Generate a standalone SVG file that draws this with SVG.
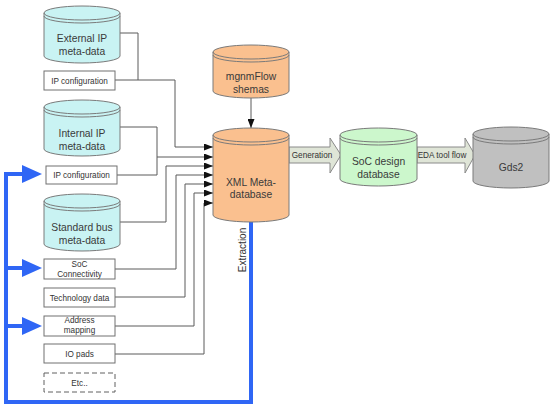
<svg xmlns="http://www.w3.org/2000/svg" width="553" height="409" viewBox="0 0 553 409">
<style>
text{font-family:"Liberation Sans",Arial,sans-serif;text-anchor:middle}
.ct{font-size:10.3px;fill:#3a3a3a}
.bt{font-size:8.2px;fill:#333}
.cyl{stroke:#7a7a7a;stroke-width:1}
.rim{fill:none;stroke:#7a7a7a;stroke-width:1}
.cyan{fill:#c9f3f3}
.orange{fill:#fac08f}
.green{fill:#ccf7cc}
.gray{fill:#c0c0c0}
.box{fill:#fff;stroke:#707070;stroke-width:1}
.dash{stroke:#606060;stroke-dasharray:5,3}
.wire{fill:none;stroke:#5a5a5a;stroke-width:1}
.blue{fill:none;stroke:#2f66f5;stroke-width:4}
.block{fill:#dfe5d7;stroke:#8a8a8a;stroke-width:1}
</style>
<defs>
<marker id="ah" markerUnits="userSpaceOnUse" markerWidth="9" markerHeight="7" viewBox="0 0 9 7" refX="9" refY="3.5" orient="auto">
<path d="M0,0 L9,3.5 L0,7 z" fill="#111"/>
</marker>
<marker id="bh" markerUnits="userSpaceOnUse" markerWidth="20" markerHeight="20" viewBox="0 0 20 20" refX="2" refY="10" orient="auto">
<path d="M0,1 L20,10 L0,19 z" fill="#2f66f5"/>
</marker>
</defs>
<rect width="553" height="409" fill="#fff"/>

<g id="connectors">
<path class="wire" d="M120,33 H138 V80"/>
<path class="wire" d="M115,80 H175 V147 H213" marker-end="url(#ah)"/>
<path class="wire" d="M120,127 H157 V175 H117"/>
<path class="wire" d="M157,157 H213" marker-end="url(#ah)"/>
<path class="wire" d="M120,222 H166 V166 H213" marker-end="url(#ah)"/>
<path class="wire" d="M115,269 H176 V175 H213" marker-end="url(#ah)"/>
<path class="wire" d="M115,297 H185 V184 H213" marker-end="url(#ah)"/>
<path class="wire" d="M115,326 H194 V193 H213" marker-end="url(#ah)"/>
<path class="wire" d="M115,354 H204 V203 H213" marker-end="url(#ah)"/>
<path class="wire" d="M251,98 V128" marker-end="url(#ah)"/>
<path class="blue" d="M251,222 V402 H6 V174 H24" marker-end="url(#bh)"/>
<path class="blue" d="M6,268 H24" marker-end="url(#bh)"/>
<path class="blue" d="M6,326 H24" marker-end="url(#bh)"/>
<text class="bt" style="font-size:10px" transform="translate(246,250) rotate(-90)">Extraction</text>
<g id="gen-arrow">
<polygon class="block" points="289,147 330,147 330,138 341,155 330,173 330,163 289,163"/>
<text class="bt" x="312" y="158">Generation</text>
</g>
<g id="eda-arrow">
<polygon class="block" points="417,147 465,147 465,138 475,155 465,173 465,163 417,163"/>
<text class="bt" x="442" y="158">EDA tool flow</text>
</g>
</g>

<g id="external-ip">
<path class="cyl cyan" d="M44,13 A38,7 0 0 1 120,13 V56 A38,7 0 0 1 44,56 Z"/>
<path class="rim" d="M44,13 A38,7 0 0 0 120,13 M44,16 A38,7 0 0 0 120,16"/>
<text class="ct" x="82" y="41.5">External IP</text>
<text class="ct" x="82" y="55">meta-data</text>
</g>
<g id="ip-config-1">
<rect class="box" x="44" y="71" width="71" height="19"/>
<text class="bt" x="79.5" y="83.5">IP configuration</text>
</g>
<g id="internal-ip">
<path class="cyl cyan" d="M44,107 A38,7 0 0 1 120,107 V149 A38,7 0 0 1 44,149 Z"/>
<path class="rim" d="M44,107 A38,7 0 0 0 120,107 M44,110 A38,7 0 0 0 120,110"/>
<text class="ct" x="82" y="136.5">Internal IP</text>
<text class="ct" x="82" y="150">meta-data</text>
</g>
<g id="ip-config-2">
<rect class="box" x="46" y="166" width="71" height="18"/>
<text class="bt" x="81.5" y="178">IP configuration</text>
</g>
<g id="standard-bus">
<path class="cyl cyan" d="M44,201 A38,7 0 0 1 120,201 V244 A38,7 0 0 1 44,244 Z"/>
<path class="rim" d="M44,201 A38,7 0 0 0 120,201 M44,204 A38,7 0 0 0 120,204"/>
<text class="ct" x="82" y="230.5">Standard bus</text>
<text class="ct" x="82" y="244">meta-data</text>
</g>
<g id="soc-connectivity">
<rect class="box" x="44" y="259" width="71" height="20"/>
<text class="bt" x="79.5" y="266.5">SoC</text>
<text class="bt" x="79.5" y="276.5">Connectivity</text>
</g>
<g id="technology-data">
<rect class="box" x="44" y="288" width="71" height="19"/>
<text class="bt" x="79.5" y="300.5">Technology data</text>
</g>
<g id="address-mapping">
<rect class="box" x="44" y="316" width="71" height="20"/>
<text class="bt" x="79.5" y="323">Address</text>
<text class="bt" x="79.5" y="332.5">mapping</text>
</g>
<g id="io-pads">
<rect class="box" x="44" y="344" width="71" height="19"/>
<text class="bt" x="79.5" y="356.5">IO pads</text>
</g>
<g id="etc">
<rect class="box dash" x="44" y="373" width="71" height="19"/>
<text class="bt" x="79.5" y="385.5">Etc..</text>
</g>
<g id="mgnmflow">
<path class="cyl orange" d="M213,52 A38,7 0 0 1 289,52 V91 A38,7 0 0 1 213,91 Z"/>
<path class="rim" d="M213,52 A38,7 0 0 0 289,52 M213,55 A38,7 0 0 0 289,55"/>
<text class="ct" x="251" y="79.5">mgnmFlow</text>
<text class="ct" x="251" y="93">shemas</text>
</g>
<g id="xml-meta-database">
<path class="cyl orange" d="M213,135 A38,7 0 0 1 289,135 V215 A38,7 0 0 1 213,215 Z"/>
<path class="rim" d="M213,135 A38,7 0 0 0 289,135 M213,138 A38,7 0 0 0 289,138"/>
<text class="ct" x="251" y="185.5">XML Meta-</text>
<text class="ct" x="251" y="197.5">database</text>
</g>
<g id="soc-design-database">
<path class="cyl green" d="M340,135 A38.5,7 0 0 1 417,135 V179 A38.5,7 0 0 1 340,179 Z"/>
<path class="rim" d="M340,135 A38.5,7 0 0 0 417,135 M340,138 A38.5,7 0 0 0 417,138"/>
<text class="ct" x="378.5" y="164.5">SoC design</text>
<text class="ct" x="378.5" y="177.5">database</text>
</g>
<g id="gds2">
<path class="cyl gray" d="M473,134 A38,7 0 0 1 549,134 V181 A38,7 0 0 1 473,181 Z"/>
<path class="rim" d="M473,134 A38,7 0 0 0 549,134 M473,137 A38,7 0 0 0 549,137"/>
<text class="ct" x="511" y="170.5">Gds2</text>
</g>
</svg>
